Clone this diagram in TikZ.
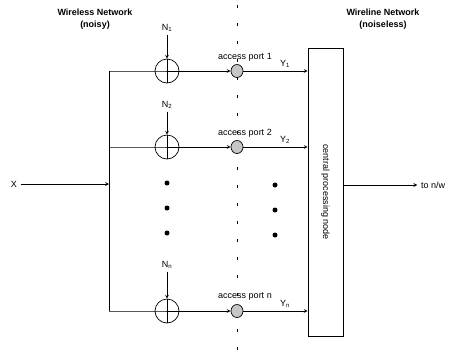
\documentclass[tikz,border=0pt]{standalone}
\usepackage{fontspec}
\setmainfont{Liberation Sans}
\usetikzlibrary{shapes.geometric, arrows, positioning, calc}

\begin{document}
\begin{tikzpicture}[x=1pt, y=1pt, node distance=25pt, line width=0.7pt, font=\fontsize{9}{10}\selectfont]
    \tikzstyle{adder} = [circle, draw, minimum size=24pt, inner sep=0pt]
    \tikzstyle{port} = [ellipse, draw, fill=gray!45, minimum width=12pt, minimum height=13pt, inner sep=0pt]
    \tikzstyle{central} = [rectangle, draw, minimum width=35pt, minimum height=288pt]
    \tikzstyle{heading} = [align=center, font=\fontsize{9}{12}\selectfont\bfseries]
    \tikzstyle{arrow} = [->,>=stealth]

    \useasboundingbox (0,0) rectangle (449,-362);

    % dashed boundary between the two networks
    \coordinate (top) at (237,-5);
    \coordinate (bottom) at (237,-362);
    \draw [dash pattern=on 3pt off 15pt] (top) -- (bottom);

    \node (wireless) [heading] at (95,-19) {Wireless Network\\(noisy)};
    \node (wireline) [heading] at (383,-19) {Wireline Network\\(noiseless)};

    \node (x) at (14,-184) {X};
    \coordinate (busx) at (109,-184);
    \coordinate (bus1) at (109,-71);
    \coordinate (bus2) at (109,-147);
    \coordinate (busn) at (109,-311);

    \node (add1) [adder] at (167,-71) {};
    \node (add2) [adder] at (167,-147) {};
    \node (addn) [adder] at (167,-311) {};

    \node (n1) [above of=add1, node distance=43pt] {N\textsubscript{1}};
    \node (n2) [above of=add2, node distance=42pt] {N\textsubscript{2}};
    \node (nn) [above of=addn, node distance=46pt] {N\textsubscript{n}};

    \node (port1) [port] at (237,-71) {};
    \node (port2) [port] at (237,-147) {};
    \node (portn) [port] at (237,-311) {};

    \node (lab1) [above of=port1, node distance=14pt, xshift=8pt] {access port 1};
    \node (lab2) [above of=port2, node distance=14pt, xshift=8pt] {access port 2};
    \node (labn) [above of=portn, node distance=14pt, xshift=8pt] {access port n};

    \node (box) [central] at (325.5,-192) {};
    \node (cpn) [rotate=-90] at (box.center) {central processing node};
    \node (out) at (433,-185) {to n/w};

    % input and bus
    \draw [arrow] (x) -- (busx);
    \draw (bus1) -- (busn);

    % the three branches
    \draw (bus1) -- (add1.west) -- (add1.east);
    \draw (bus2) -- (add2.west) -- (add2.east);
    \draw (busn) -- (addn.west) -- (addn.east);
    \draw (add1.north) -- (add1.south);
    \draw (add2.north) -- (add2.south);
    \draw (addn.north) -- (addn.south);
    \draw [arrow] (n1) -- (add1);
    \draw [arrow] (n2) -- (add2);
    \draw [arrow] (nn) -- (addn);
    \draw [arrow] (add1) -- (port1);
    \draw [arrow] (add2) -- (port2);
    \draw [arrow] (addn) -- (portn);
    \draw [arrow] (port1) -- node[above, pos=0.65] {Y\textsubscript{1}} (port1 -| box.west);
    \draw [arrow] (port2) -- node[above, pos=0.65] {Y\textsubscript{2}} (port2 -| box.west);
    \draw [arrow] (portn) -- node[above, pos=0.65] {Y\textsubscript{n}} (portn -| box.west);

    \draw [arrow] (box.east |- out) -- (out);

    % dots for the omitted branches
    \foreach \y in {183,208,233} {
        \fill (167,-\y) circle (2.5pt);
        \fill (275,-\y-2) circle (2.5pt);
    }
\end{tikzpicture}
\end{document}
